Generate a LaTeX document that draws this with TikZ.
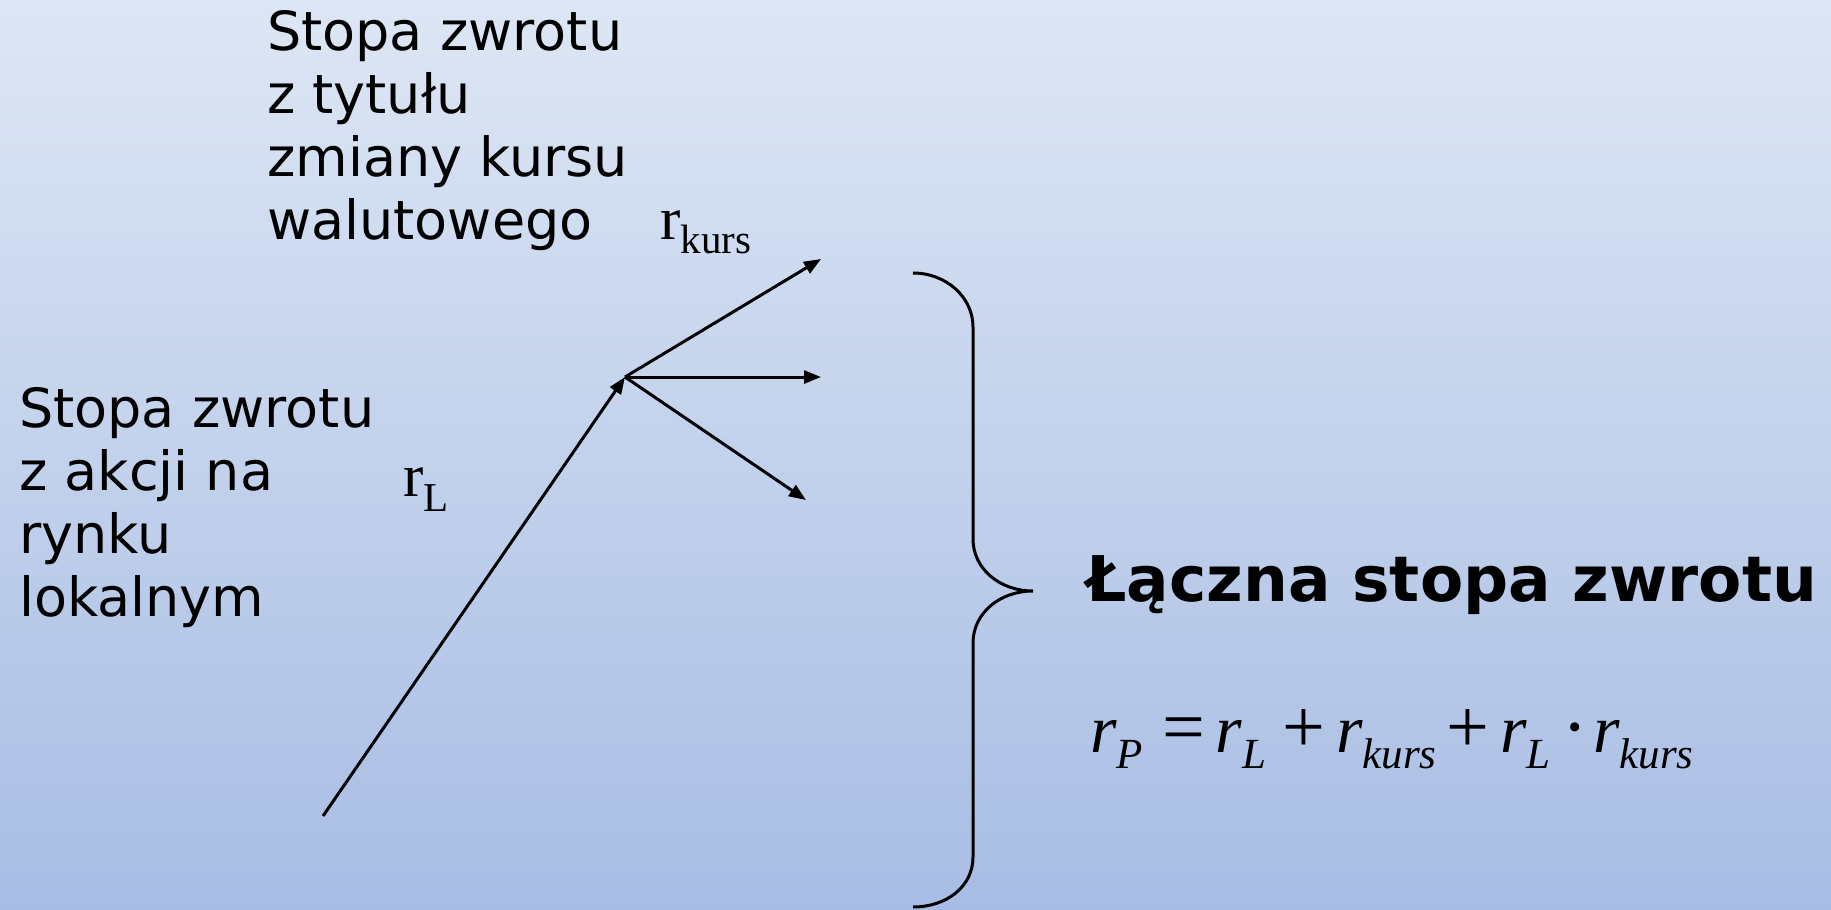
\documentclass[tikz,border=0pt]{standalone}
\usepackage{fontspec}
\setmainfont{DejaVu Sans}
\newfontfamily\timesfont{Liberation Serif}
\usepackage{tikz}
\usetikzlibrary{arrows.meta,positioning}

\definecolor{bgtop}{RGB}{221,230,244}
\definecolor{bgbottom}{RGB}{168,189,228}

% r with a lowered index
\newcommand{\rup}[2]{{\timesfont r\raisebox{-#2}{\fontsize{41}{41}\selectfont #1}}}
\newcommand{\rit}[1]{{\timesfont\itshape r\raisebox{-16pt}{\fontsize{43}{43}\selectfont #1}}}
\newcommand{\op}[3]{\hspace{#2}{\timesfont\fontsize{76}{76}\selectfont #1}\hspace{#3}}

\begin{document}
\begin{tikzpicture}[
    x=1pt, y=-1pt,
    label/.style={anchor=base west, inner sep=0pt, align=left, font=\fontsize{54}{63}\selectfont},
    symb/.style={anchor=base west, inner sep=0pt, font=\fontsize{61}{61}\selectfont},
    arrow/.style={-{Triangle[length=17pt,width=13pt]}, line width=3pt},
    brace/.style={line width=3pt}
]
\shade[top color=bgtop, bottom color=bgbottom] (0,0) rectangle (1831,910);
\useasboundingbox (0,0) rectangle (1831,910);

% base anchor sits on the last line
\node[label] (kurstxt) at (267,239) {Stopa zwrotu\\z tytułu\\zmiany kursu\\walutowego};
\node[label] (lokaltxt) at (19,616) {Stopa zwrotu\\z akcji na\\rynku\\lokalnym};
\node[symb] (rkurs) at (660,239) {\rup{kurs}{14pt}};
\node[symb] (rl) at (403,496) {\rup{L}{15pt}};

\coordinate (start) at (323,816);
\coordinate (hub) at (625,377);
\coordinate (up) at (821,259);
\coordinate (mid) at (821,377);
\coordinate (down) at (806,500);

\draw[arrow] (start) -- (hub);
\draw[arrow] (hub) -- (up);
\draw[arrow] (hub) -- (mid);
\draw[arrow] (hub) -- (down);

% brace
\draw[brace] (913,273) .. controls (946,273) and (973,297) .. (973,327)
    -- (973,539) .. controls (973,569) and (1000,591) .. (1033,591)
    .. controls (1000,591) and (973,613) .. (973,643)
    -- (973,857) .. controls (973,887) and (946,907) .. (913,907);

\node[anchor=base west, inner sep=0pt, font=\fontsize{63}{63}\selectfont\bfseries] (total) at (1086,601) {Łączna stopa zwrotu};
\node[anchor=base west, inner sep=0pt, font=\fontsize{68}{68}\selectfont] (formula) at (1090,752)
    {\rit{P}\op{=}{20pt}{10pt}\rit{L}\op{+}{16pt}{11pt}\rit{kurs}\op{+}{10pt}{11pt}\rit{L}\op{·}{12pt}{5pt}\rit{kurs}};
\end{tikzpicture}
\end{document}
